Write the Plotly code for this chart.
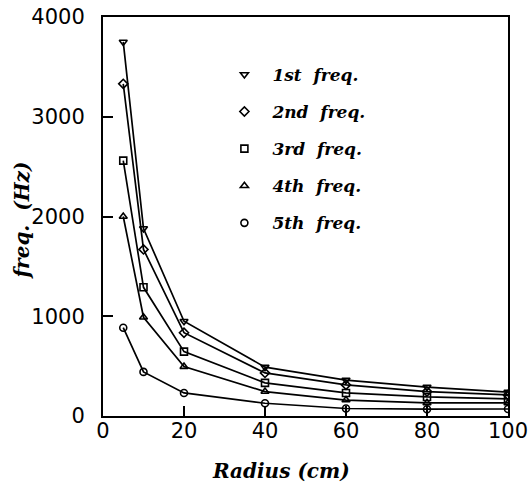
import plotly.graph_objects as go

radius = [5, 10, 20, 40, 60, 80, 100]
freq1 = [3750, 1880, 950, 490, 360, 290, 240]
freq2 = [3330, 1670, 835, 432, 312, 245, 211]
freq3 = [2560, 1290, 645, 332, 231, 191, 171]
freq4 = [2000, 990, 495, 245, 160, 131, 131]
freq5 = [885, 442, 231, 128, 75, 68, 70]
names = ["1st  freq.", "2nd  freq.", "3rd  freq.", "4th  freq.", "5th  freq."]
symbols = ["triangle-down-open", "diamond-open", "square-open", "triangle-up-open", "circle-open"]
series = [freq1, freq2, freq3, freq4, freq5]

fig = go.Figure()
for i, (ys, nm, sym) in enumerate(zip(series, names, symbols)):
    fig.add_trace(go.Scatter(x=radius, y=ys, mode="lines", showlegend=False,
                             line=dict(color="black", width=1.7), hoverinfo="skip"))
    fig.add_trace(go.Scatter(x=radius, y=ys, mode="markers",
                             name="<b><i>" + nm + "</i></b>",
                             legendgroup=f"g{i}",
                             marker=dict(symbol=sym, size=7, color="black",
                                         line=dict(color="black", width=1.6))))

axis_font = dict(family="DejaVu Sans", size=21, color="black")
title_font = dict(family="DejaVu Serif", size=20, color="black")

fig.update_layout(
    width=529, height=487,
    margin=dict(l=103, r=21, t=17, b=71),
    paper_bgcolor="white", plot_bgcolor="white",
    showlegend=True,
    legend=dict(x=0.28, y=0.90, xanchor="left", yanchor="top",
                bgcolor="rgba(0,0,0,0)", tracegroupgap=12,
                font=dict(family="DejaVu Serif", size=17, color="black"),
                itemwidth=46),
    xaxis=dict(range=[0, 100], tickvals=[0, 20, 40, 60, 80, 100],
               ticks="inside", ticklen=10, tickwidth=1.6, tickcolor="black",
               showline=True, linecolor="black", linewidth=2, mirror=True,
               showgrid=False, zeroline=False, tickfont=axis_font,
               ticklabelstandoff=-5, automargin=False, ticklabeloverflow="allow"),
    yaxis=dict(range=[0, 4000], tickvals=[0, 1000, 2000, 3000, 4000],
               ticks="inside", ticklen=10, tickwidth=1.6, tickcolor="black",
               showline=True, linecolor="black", linewidth=2, mirror=True,
               showgrid=False, zeroline=False, tickfont=axis_font,
               ticklabelstandoff=12, automargin=False, ticklabeloverflow="allow"),
    annotations=[
        dict(text="<b><i>Radius (cm)</i></b>", xref="paper", yref="paper",
             x=0.44, y=-0.1375, xanchor="center", yanchor="middle",
             showarrow=False, font=title_font),
        dict(text="<b><i>freq.  (Hz)</i></b>", xref="paper", yref="paper",
             x=-0.2, y=0.49, xanchor="center", yanchor="middle",
             textangle=-90, showarrow=False, font=title_font),
    ],
)

fig.write_html("out.html", config={"displayModeBar": False},
               post_script="document.body.style.margin='0';document.body.style.overflow='hidden';")
